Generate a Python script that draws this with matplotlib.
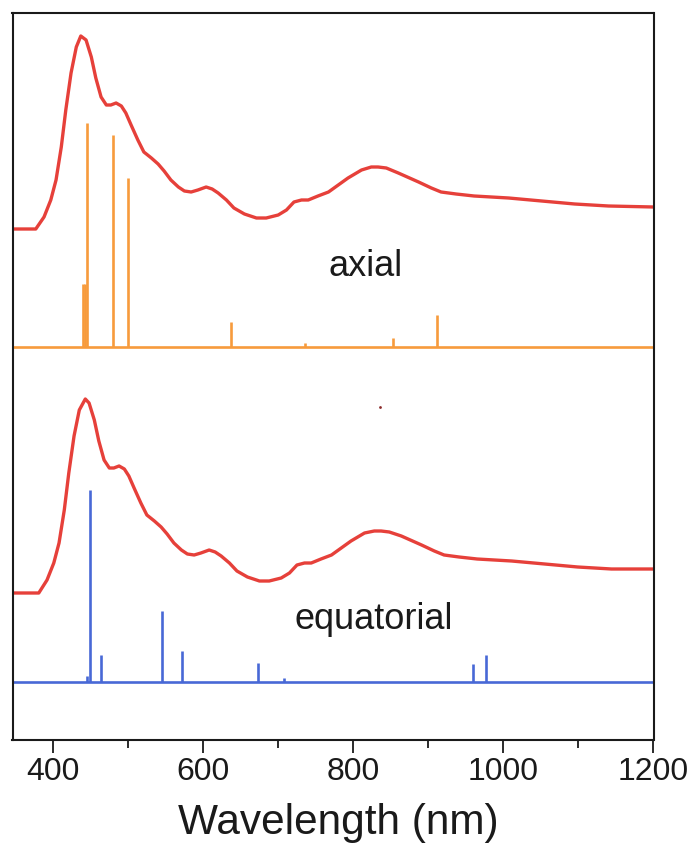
import matplotlib
matplotlib.use("Agg")
import matplotlib.pyplot as plt
from matplotlib.ticker import MultipleLocator

plt.rcParams['font.family'] = ['Liberation Sans', 'DejaVu Sans']

# ---- data (arbitrary absorbance units, offset stacked) ----
axial_wl = [347, 377, 388, 397, 404, 411, 417, 424, 431, 437, 444, 451, 457, 464,
            471, 477, 484, 491, 497, 504, 513, 521, 531, 540, 548, 557, 567, 575,
            584, 593, 604, 612, 620, 631, 641, 655, 671, 684, 700, 711, 721, 731,
            740, 753, 767, 780, 793, 811, 824, 833, 844, 860, 887, 904, 917, 937,
            961, 1007, 1051, 1095, 1140, 1200]
axial_abs = [511, 511, 523, 540, 560, 593, 630, 667, 693, 704, 700, 683, 662, 643,
             635, 635, 637, 634, 627, 615, 600, 588, 582, 576, 569, 560, 553, 549,
             548, 550, 553, 551, 547, 540, 532, 526, 522, 522, 525, 530, 538, 540,
             540, 544, 548, 555, 562, 570, 573, 573, 572, 567, 558, 552, 548, 546,
             544, 542, 539, 536, 534, 533]

equat_wl = [347, 381, 392, 401, 408, 415, 421, 428, 435, 443, 448, 455, 461, 468,
            475, 481, 488, 495, 501, 508, 517, 525, 535, 544, 552, 561, 571, 579,
            588, 597, 608, 616, 624, 635, 645, 659, 675, 688, 704, 715, 725, 735,
            744, 757, 771, 784, 797, 815, 828, 837, 848, 864, 891, 908, 921, 941,
            965, 1011, 1055, 1099, 1144, 1200]
equat_abs = [147, 147, 160, 177, 197, 230, 267, 304, 330, 341, 337, 320, 299, 280,
             272, 272, 274, 271, 264, 252, 237, 225, 219, 213, 206, 197, 190, 186,
             185, 187, 190, 188, 184, 177, 169, 163, 159, 159, 162, 167, 175, 177,
             177, 181, 185, 192, 199, 207, 209, 209, 208, 204, 195, 189, 185, 183,
             181, 179, 176, 173, 171, 171]

axial_stick_wl = [440, 442, 445, 480, 500, 637, 736, 853, 912]
axial_stick_f = [63, 63, 224, 212, 169, 25, 4, 9, 32]

equat_stick_wl = [445, 449, 464, 545, 572, 673, 708, 959, 977]
equat_stick_f = [6, 192, 27, 71, 31, 19, 4, 18, 27]

axial_base = 393
equat_base = 58

labels = ["axial", "equatorial"]

red = "#E6403A"
orange = "#F79B3C"
blue = "#4868D6"

fig = plt.figure(figsize=(6.91, 8.52), dpi=100)
ax = fig.add_axes([12.5 / 691, (852 - 740) / 852, 641 / 691, 727 / 852])

for wl, a in [(axial_wl, axial_abs), (equat_wl, equat_abs)]:
    ax.plot(wl, a, color=red, lw=2.4, solid_capstyle='round', solid_joinstyle='round')

ax.axhline(axial_base, color=orange, lw=1.9)
ax.vlines(axial_stick_wl, axial_base, [axial_base + f for f in axial_stick_f], color=orange, lw=1.9)
ax.axhline(equat_base, color=blue, lw=1.9)
ax.vlines(equat_stick_wl, equat_base, [equat_base + f for f in equat_stick_f], color=blue, lw=1.9)

# small artifact dot
ax.plot([835], [333], marker='o', ms=2, color="#8B2A2A", mec='none')

ax.text(817, 464, labels[0], fontsize=26, ha='center', va='baseline', color='#1a1a1a')
ax.text(827, 111, labels[1], fontsize=26, ha='center', va='baseline', color='#1a1a1a')

ax.set_xlim(346, 1200)
ax.set_ylim(0, 727)
ax.set_yticks([])
ax.xaxis.set_major_locator(MultipleLocator(200))
ax.xaxis.set_minor_locator(MultipleLocator(100))
ax.tick_params(axis='x', which='major', direction='out', length=9.5, width=1.3,
               labelsize=23, pad=3, colors='#1a1a1a')
ax.tick_params(axis='x', which='minor', direction='out', length=5.5, width=1.3, colors='#1a1a1a')
for s in ax.spines.values():
    s.set_linewidth(1.5)
    s.set_color('#1a1a1a')
ax.set_xlabel("Wavelength (nm)", fontsize=30.5, color='#1a1a1a')
ax.xaxis.label.set_va('baseline')
ax.xaxis.set_label_coords((338 - 12.5) / 641, (740 - 834) / 727)

fig.savefig("out.png", dpi=100)
